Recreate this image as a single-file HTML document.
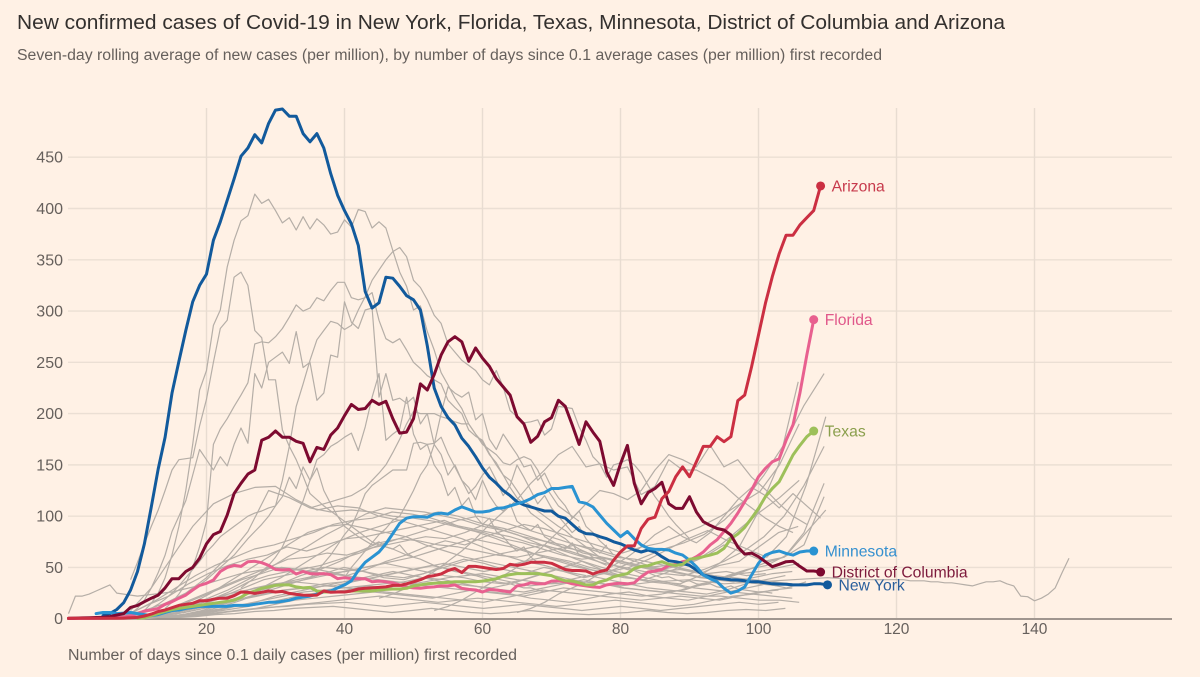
<!DOCTYPE html>
<html lang="en">
<head>
<meta charset="utf-8">
<title>New confirmed cases of Covid-19</title>
<style>
html,body{margin:0;padding:0;background:#fff1e5;}
body{width:1200px;height:677px;overflow:hidden;}
svg{display:block;font-family:"Liberation Sans",sans-serif;}
</style>
</head>
<body>
<svg id="chart" width="1200" height="677" viewBox="0 0 1200 677" xmlns="http://www.w3.org/2000/svg">
<rect x="0" y="0" width="1200" height="677" fill="#fff1e5"/>
<text x="17" y="29" font-size="20.5" fill="#33302e" textLength="988" lengthAdjust="spacingAndGlyphs">New confirmed cases of Covid-19 in New York, Florida, Texas, Minnesota, District of Columbia and Arizona</text>
<text x="17" y="60" font-size="15.5" fill="#66605c" textLength="865" lengthAdjust="spacingAndGlyphs">Seven-day rolling average of new cases (per million), by number of days since 0.1 average cases (per million) first recorded</text>
<text x="68" y="660" font-size="15.5" fill="#66605c" textLength="449" lengthAdjust="spacingAndGlyphs">Number of days since 0.1 daily cases (per million) first recorded</text>
<g id="grid"></g>
<g id="grey"></g>
<g id="main"></g>
<g id="labels"></g>
</svg>
<script>
const yTicks = [0, 50, 100, 150, 200, 250, 300, 350, 400, 450];
const xTicks = [20, 40, 60, 80, 100, 120, 140];

const newYorkStart = 5;
const newYork = [3,5,9,15.6,28,46,73,109,146,177,220,251,281,309,325,336,369,387,408,429,451,459,472,464,483,496,497,490,490,473,465,473,459,434,413,398,385,364,319,303,308,333,332,324,315,311,301,266,225,207,196,189,176,168,158,147,138,132,125,120,114,111,109,107,105,105,100,98,92,86,83,82.5,80,78,75,73,70,67,65,67,65,60.5,56.5,55.6,54,52,47.5,42.6,41,39.6,38.7,38,37.7,37,36,36,35,34,33.7,33.5,33,33,33,34,34,33];

const minnesotaStart = 4;
const minnesota = [5,6,6,5,5.5,6,5,4,3,4,6,8,8.5,10,11,12,12,12,12,12,13,13,13,14,15,16,16,17,18,20,21,22,24,26,27,30,33,37,47,55,60,65,73,83,93,98,99.5,99.5,99,102,103,102,106,109,106.6,104,104,105,107.6,108,110,112,114,117,121,123,127,127,128,129,114,112.5,109,101,93,86.5,80,85,78,72,68.6,67.6,67.6,67,64,62,57,50.7,42.6,39,36,29.6,25,27,31,42.6,54,62,64.7,66,63.7,62,65,66,66];

const dcStart = 0;
const districtOfColumbia = [0.5,0.6,0.8,1,1.2,1.5,2,3.6,5,11,13,16.6,20,23,30,39,39,46,50,59,73,82,85,101,122,132,141,145,174,177,183,177,177,173,171,153,167,165,179,186,198,209,204,205,213,209,212,195,181,182,195,229,223,238,257,270,275,270,251,264,254,246,234,226,218,197,190,172,178,192,196,213,207,189,170,192,182,173,143,130,151,169,132,112,123,127,133,112,107.6,107.6,119,104,94.6,91,88,86.5,81.6,70,63,64,60.5,55.6,50.7,53,55.6,56,51,46.5,46.5,45.5];

const floridaStart = 0;
const florida = [0.2,0.2,0.3,0.3,0.4,0.5,0.7,1,1.5,3,5,7.5,8.5,10,14,16.6,20,23,28,32.5,34.5,37.7,46,50,52,51,55.6,56,54.6,52,48,47.5,48,43.6,46,44,43.6,44,43,39,40,39,39,39,36,36.7,36,35,33,31,30,29.6,30.5,31,32,32,33,29.6,28.6,28,26,28.6,28,27,26,32,33,35,34,34,36.7,37,36,34,33,32,31,30.5,33,34,34.5,34,35,41,45.5,46.5,48,52,53,55.6,57,60.5,65,72,77,85,93,103,114,125.5,138.5,146.6,153,156,174,189,220,257,291.6];

const texasStart = 10;
const texas = [0.5,1,3,5,7,9,10,11,12,13,14,15,16,17,18,21,25,27,29.6,31,32.5,33,33,31,30,30.5,27,26,26,26,26,27,27,27,27,28,28.6,29,29,29.6,32,33,34,34.5,35,35.4,36,36,36,36,36.7,37.7,39,41.6,43,44,44,44,44,43,42,39,37,36.7,35,33,33,36,37.7,41,42.6,44,49,51,51.7,54,55.6,53,52,53,58,59,60.5,62,64,68.6,78,82.6,89,98,107.6,119,127,133.6,146.6,159.6,169,177.5,183];

const arizonaStart = 0;
const arizona = [0.3,0.4,0.4,0.5,0.5,0.5,0.5,0.5,0.6,1,1.3,2.6,4.5,7,8.5,10.7,13,14,15,17.5,17.5,19,20,20,22.4,26,25.7,24.7,25.7,27,26,26.6,24.7,23.7,23,22.7,23,27,25.7,26,26,27,29,29.6,30,30.5,31,32.5,32.5,34,36,38,41,42,43.6,47,49,45,51,51,50,49,48,49,53,52,53,55,55,55,54,51,48,47,47,46.5,43.6,46,47.5,57,65,71,71,88,97,99,117,124,138.5,148,138.5,153,168,168,177.5,172.6,177.5,212.6,218,245.7,276.6,307.5,333.5,356,374,374,384,391,398,422];

const grey01 = [3,8,15,25,40,62,90,125,170,223,242,286,301,343,369,388,393,414,405,409,398,386,391,379,392,380,390,384,375,377,389,382,399,397,381,387,381,359,338,324,301,305,280,262,240,228,215,205,190,180,172,160,152,140,128,118,112,103,98,93,88,82,78,72,68,65,60,58,55,52,50,48,47,44,45,42,40,41,38,36,37,34,33,34,31,30,32,29,28,27,26,26,25];
const grey02 = [2,3,4,6,8,10,13,16,20,24,28,33,38,44,50,56,62,70,78,85,92,100,110,135,168,207,229,252,272,281,290,288,282,286,301,314,330,340,350,358,362,353,330,323,311,296,288,268,260,252,247,242,233,228,242,226,203,197,191,192,194,179,185,207,206,205,187,174,158,151,138,150,152,155,150,142,130,119,110,100,92,85,78];
const grey03 = [38,55,73,90,106,125,145,155,156,157,188,214,250,283,291,333,338,325,281,274,233,233,184,168,155,139,122,116,110,105,100,95,90,85,80,75,72,70,68,65,62,60,58,55,52,50,48,46,45,43,42,40,38,36,35,34,32,30,30,28,26];
const grey04 = [10,16,24,34,50,70,95,170,185,195,207,218,230,268,270,269,275,283,294,306,300,303,313,310,320,328,328,313,311,313,318,291,273,269,273,262,250,244,237,233,229,213,206,200,184,178,174,161,150,140,135,125,115,110,105,100,95,90,86,80,75,70,65,60,56];
const grey05 = [1,2,3,4,5,10,18,30,45,62,85,100,115,140,165,155,145,158,149,170,186,171,239,225,250,255,260,249,280,245,250,213,220,257,255,309,289,283,301,303,216,239,213,215,210,216,190,200,170,160,140,150,135,128,116,135,120,110,105,112,95,90,86,92,80,76,72,68,74,62,60,58,55,52];
const grey06 = [30,35,40,46,52,60,70,85,100,115,135,155,160,168,172,177,181,164,187,216,239,174,180,185,216,180,165,170,150,140,120,128,110,118,100,92,98,85,80,72,66,70,60,55];
const grey07 = [8,30,60,90,112,122,128,129,116,106,110,108,100,96,90,84,78,70,62,56,52,46,42];
const grey08 = [5,7,10,14,19,25,32,40,48,56,65,72,80,85,90,95,100,103,105,108,110,119,138,127,148,135,147,125,112,100,90,85,80,76,72,75,70,68,72,64,60];
const grey09 = [40,46,54,62,72,82,90,105,122,130,135,140,145,145,145,171,172,170,171,177,161,148,135,122,129,140,148,135,120,130,150,138,125,112,120,108,100,92,84,90,78,70,64,72];
const grey10 = [40,50,58,66,74,82,88,96,100,112,125,140,150,170,200,226,220,216,221,194,200,175,165,180,170,160,148,150,135,142,128,118,110,98,105,90,84,76,70,62];
const grey11 = [108,110,112,114,116,118,120,124,128,135,142,150,162,175,190,202,200,200,200,197,195,192,190,190,180,170,165,160,152,150,155,158,155,145,130,120,110,105,100,95];
const grey12 = [1,3,8,15,25,40,60,85,125,118,108,104,106,104,100,98,95,90,85,78,70,62,56,50,46];
const grey13 = [20,24,30,38,46,56,66,78,92,104,116,132,145,160,168,148,151,145,148,121,129,155,145,145,138,130,118,108,98,90,84];
const grey14 = [8,12,18,26,34,42,50,60,72,85,98,112,125,122,116,125,145,160,155,148,169,148,155,138,126,112,100,92];
const grey15 = [6,10,16,24,30,36,44,52,60,70,82,90,80,74,84,100,116,128,120,108,122,110,98];
const greyLow01 = [2,8,18,30,42,52,60,68,72,78,84,92,96,98,104,102,98,92,88,84,80,74,70,66,60,58,54,50,52,48,44,46,42,44];
const greyLow02 = [1,5,14,22,34,44,52,58,62,70,66,72,78,80,84,88,92,96,88,84,78,74,68,62,58,60,54,50,46,48,44,52,56,70,84,90];
const greyLow03 = [1,4,10,18,26,34,42,50,58,60,64,62,68,72,76,80,78,84,92,88,82,76,72,64,60,56,50,48,52,60,72,88,104,118,135];
const greyLow04 = [1,3,8,14,22,30,38,44,50,48,52,58,64,72,78,84,90,96,100,96,90,84,78,72,66,60,58,54,50,46,42,40,38,36,34];
const greyLow05 = [1,3,6,12,18,26,36,42,46,50,46,42,48,56,62,70,76,72,80,86,92,88,82,76,70,64,70,74,82,90,100,112,124,150,190];
const greyLow06 = [0,2,5,10,16,22,30,38,42,46,50,48,46,42,40,44,50,56,60,64,68,72,66,60,54,50,46,44,42,48,56,66,80,100,130,168];
const greyLow07 = [1,3,6,10,14,20,26,32,36,40,44,48,52,56,60,66,72,78,74,70,64,60,56,50,46,50,58,68,78,86,76,68,60,80,130,197];
const greyLow08 = [0,2,4,8,12,18,24,28,32,36,40,44,46,50,54,50,46,42,40,36,34,38,44,50,56,48,42,38,36,34,42,54,70,105,150,231];
const greyLow09 = [0,1,3,6,10,14,20,24,28,30,34,36,38,42,46,50,54,50,46,50,56,60,56,50,44,40,38,44,52,60,72,64,56,60,84,132];
const greyLow10 = [0,1,3,5,8,12,16,22,26,30,34,38,42,46,42,38,34,32,30,34,40,46,52,48,44,40,36,34,30,34,42,48,52,62,84,106];
const greyLow11 = [0,1,2,4,7,10,14,18,22,26,28,30,32,34,36,40,38,34,30,28,26,30,34,38,34,30,28,26,28,34,40,46,54,60,72,119];
const greyLow12 = [0,1,2,3,6,9,12,16,20,24,26,28,32,30,34,32,30,28,26,24,22,26,30,28,26,24,22,24,28,34,38,44,46,50,54];
const greyLow13 = [0,1,2,3,5,8,10,14,18,20,22,24,26,24,22,20,24,28,26,24,20,18,16,20,24,26,22,20,18,22,26,30,34,30,36];
const greyLow14 = [0,0,1,2,4,6,8,10,12,14,16,18,20,22,20,18,16,18,20,18,16,14,12,14,16,18,16,14,12,14,18,22,24,28,30];
const greyLow15 = [0,0,1,2,3,5,7,9,11,12,14,15,16,14,12,14,16,14,12,10,12,14,12,10,8,10,12,10,8,10,12,14,16,14,16];
const greyLow16 = [0,0,1,1,2,4,5,7,8,10,11,12,10,8,6,8,10,8,6,5,6,8,6,5,4,5,6,8,6,5,6,8,9,8,10];
const greyLow17 = [0,1,2,4,8,14,22,30,40,52,64,76,84,90,96,100,104,100,94,88,82,74,66,58,52,46,42,38,34,30,28,26,24,22,20];
const greyLow18 = [1,3,7,14,24,36,48,60,72,84,90,92,88,84,80,72,66,60,56,52,48,44,40,36,34,30,28,26,24,22,22,20,18,18,16];
const greyLow19 = [0,1,3,6,12,20,28,38,48,60,70,82,92,102,108,106,104,100,96,90,86,80,76,70,66,60,56,52,48,44,40,38,36,34,32];
const greyLow20 = [0,1,2,4,7,12,18,26,34,42,48,56,66,74,78,76,72,70,66,62,60,64,68,72,68,62,56,50,46,42,38,36,40,44,46];
const greyLow21 = [1,2,4,8,12,18,24,30,34,36,34,32,36,40,44,48,52,48,44,40,36,32,34,38,42,38,34,30,28,26,24,28,34,38,42];
const greyLow22 = [0,1,3,6,9,13,17,20,24,28,30,32,30,28,26,24,22,20,18,16,20,24,28,26,24,22,20,18,20,22,20,18,22,26,28];
const greyLow23 = [0,1,3,6,10,15,20,26,32,38,44,50,46,40,38,44,52,58,54,48,44,50,46,40,44,52,60,68,74,82,96,115,140,170,208,239];
const greyLongHead = [5,22,22,24,27,30,33,25,24,23,22];
const greyLongMid = [22,26,34,44,50,46,42,38,34,40,44,38,34,36,32,36,38,34,36,38,40,38,38];
const greyLongTail = [38,38,37,37,37,36,36,35,35,34,33,32,34,36,36,37,34,32,22,21.5,17.5,20,24,30,45,59];

const greyLines = [grey01, grey02, grey03, grey04, grey05, grey06, grey07, grey08, grey09, grey10, grey11, grey12, grey13, grey14, grey15, greyLow01, greyLow02, greyLow03, greyLow04, greyLow05, greyLow06, greyLow07, greyLow08, greyLow09, greyLow10, greyLow11, greyLow12, greyLow13, greyLow14, greyLow15, greyLow16, greyLow17, greyLow18, greyLow19, greyLow20, greyLow21, greyLow22, greyLow23, greyLongHead, greyLongMid, greyLongTail];
const greyStartDays = [10, 8, 9, 14, 5, 25, 9, 10, 35, 40, 35, 5, 45, 53, 65, 7, 6, 9, 8, 9, 8, 10, 6, 8, 10, 8, 9, 10, 8, 6, 7, 8, 9, 6, 8, 7, 6, 8, 0, 10, 120];
const greySteps = [1, 1, 1, 1, 1, 1, 3, 1, 1, 1, 1, 3, 2, 2, 2, 2.85, 2.85, 2.85, 2.85, 2.85, 2.9, 2.85, 2.85, 2.9, 2.85, 2.9, 2.85, 2.85, 2.85, 2.85, 2.85, 2.85, 2.85, 2.85, 2.85, 2.85, 2.85, 2.9, 1, 5, 1];

const stateNames = ['Florida', 'New York', 'Minnesota', 'Texas', 'District of Columbia', 'Arizona'];
const stateValues = [florida, newYork, minnesota, texas, districtOfColumbia, arizona];
const stateStarts = [floridaStart, newYorkStart, minnesotaStart, texasStart, dcStart, arizonaStart];

const xScale = d => 68.5 + d * 6.9;
const yScale = v => 618.7 - v * 1.0255;
const NS = 'http://www.w3.org/2000/svg';
const lineColors = {'Florida':'#e8608f','New York':'#125a9c','Minnesota':'#2a93d2','Texas':'#9dc05a','District of Columbia':'#7d0a30','Arizona':'#cb2f42'};
const textColors = {'Florida':'#e0588a','New York':'#2a5f9c','Minnesota':'#3590cf','Texas':'#8a9f4c','District of Columbia':'#7d1a3c','Arizona':'#c73a4c'};

function make(tag, attrs, parent) {
  const el = document.createElementNS(NS, tag);
  for (const k in attrs) el.setAttribute(k, attrs[k]);
  parent.appendChild(el);
  return el;
}
function pathOf(values, start, step) {
  return values.map((v, i) => (i ? 'L' : 'M') + xScale(start + i * step).toFixed(1) + ' ' + yScale(v).toFixed(1)).join('');
}

const grid = document.getElementById('grid');
yTicks.forEach(t => {
  if (t > 0) {
    const gl = make('line', {x1:68, x2:1172, y1:yScale(t), y2:yScale(t), stroke:'#ebdfd4', 'stroke-width':1.4}, grid);
    
    
  }
  const tl = make('text', {x:63, y:yScale(t) + 5.5, 'text-anchor':'end', 'font-size':16, fill:'#66605c'}, grid);
  
  
  tl.textContent = t;
});
xTicks.forEach(t => {
  const gl = make('line', {x1:xScale(t), x2:xScale(t), y1:108, y2:618, stroke:'#e8dcd1', 'stroke-width':1.4}, grid);
  
  
  const tl = make('text', {x:xScale(t), y:634, 'text-anchor':'middle', 'font-size':15.5, fill:'#66605c'}, grid);
  
  
  tl.textContent = t;
});
const axis = make('line', {x1:67, x2:1172, y1:619, y2:619, stroke:'#807973', 'stroke-width':1.5}, grid);



const greyG = document.getElementById('grey');
greyLines.forEach((vals, i) => {
  const p = make('path', {d:pathOf(vals, greyStartDays[i], greySteps[i]), fill:'none', stroke:'#b5aea7', 'stroke-width':1.2, 'stroke-linejoin':'round'}, greyG);
  
  
});

const mainG = document.getElementById('main');
const labelG = document.getElementById('labels');
stateNames.forEach((name, i) => {
  const vals = stateValues[i];
  const start = stateStarts[i];
  const p = make('path', {d:pathOf(vals, start, 1), fill:'none', stroke:lineColors[name], 'stroke-width':3, 'stroke-linejoin':'round', 'stroke-linecap':'round'}, mainG);
  
  
  const last = vals.length - 1;
  const cx = xScale(start + last);
  const cy = yScale(vals[last]);
  const c = make('circle', {cx:cx, cy:cy, r:4.5, fill:lineColors[name]}, mainG);
  
  
  const t = make('text', {x:cx + 11, y:cy + 5.5, 'font-size':15.7, fill:textColors[name]}, labelG);
  
  
  t.textContent = name;
});
</script>
</body>
</html>
